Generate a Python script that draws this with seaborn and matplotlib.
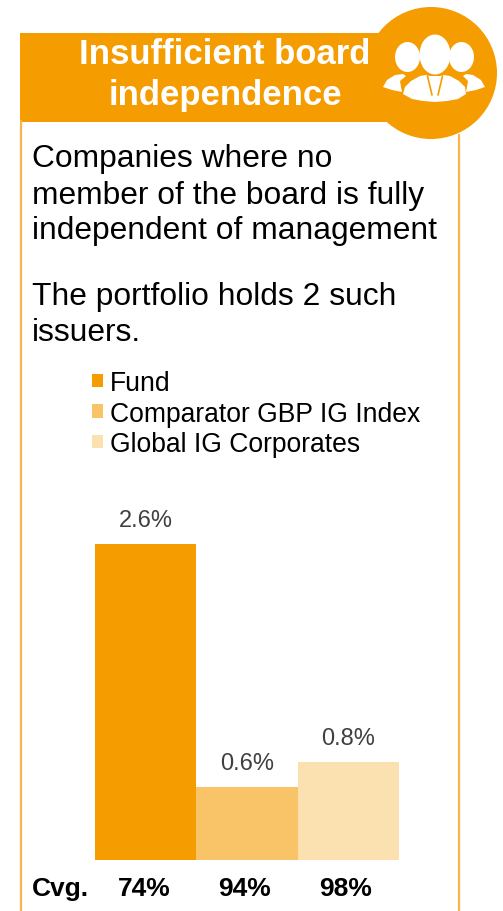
import matplotlib
matplotlib.use('Agg')
import matplotlib.pyplot as plt
from matplotlib.patches import Circle, Ellipse, Rectangle, Polygon
import pandas as pd
import seaborn as sns

names = ['Fund', 'Comparator GBP IG Index', 'Global IG Corporates']
values = [2.6, 0.6, 0.81]
value_labels = ['2.6%', '0.6%', '0.8%']
coverage = ['74%', '94%', '98%']
colors = ['#F59C00', '#F9C468', '#FBE0B0']

W, H = 503, 912
sns.set_theme(style='white')
plt.rcParams['font.family'] = ['Liberation Sans', 'DejaVu Sans']

fig = plt.figure(figsize=(W / 100, H / 100), dpi=100, facecolor='white')

# overlay in pixel coordinates for the panel frame and header
bg = fig.add_axes([0, 0, 1, 1], zorder=0)
bg.set_xlim(0, W)
bg.set_ylim(H, 0)
bg.axis('off')

orange = colors[0]
bg.plot([21.5, 21.5], [122, H], color='#F7B54A', lw=1.6)
bg.plot([459.5, 459.5], [136, H], color='#F7B54A', lw=1.6)
bg.add_patch(Rectangle((20.5, 34), 390, 88.5, color=orange, lw=0))
bg.add_patch(Circle((431, 74), 66, color=orange, lw=0))

# people icon
white = 'white'
bg.add_patch(Ellipse((435, 55.5), 31, 40, color=white, lw=0))
bg.add_patch(Ellipse((407.5, 58), 25, 30, color=white, lw=0))
bg.add_patch(Ellipse((461.5, 58), 25, 30, color=white, lw=0))
bg.add_patch(Polygon([(403, 95), (405, 88), (411, 82), (420, 77), (426, 76), (430, 77),
                      (440, 77), (444, 76), (450, 77), (459, 82), (465, 88), (466, 95),
                      (458, 100), (447, 102), (435, 103), (423, 102), (412, 100)],
                     color=white, lw=0))
bg.plot([427.5, 432], [77, 96], color=orange, lw=1.2)
bg.plot([442.5, 438], [77, 96], color=orange, lw=1.2)
bg.add_patch(Polygon([(383, 88), (387, 81), (395, 76), (403, 75), (406, 77), (400, 82),
                      (401, 88), (402, 93), (392, 91)], color=white, lw=0))
bg.add_patch(Polygon([(485, 88), (481, 81), (473, 76), (466, 75), (463, 77), (468, 82),
                      (467, 88), (466, 93), (476, 91)], color=white, lw=0))

bg.text(225, 55, 'Insufficient board', color='white', fontsize=25, fontweight='bold',
        ha='center', va='center')
bg.text(225, 95, 'independence', color='white', fontsize=25, fontweight='bold',
        ha='center', va='center')

for y, line in zip([159, 196, 231, 297, 333],
                   ['Companies where no', 'member of the board is fully',
                    'independent of management', 'The portfolio holds 2 such', 'issuers.']):
    bg.text(32, y, line, color='black', fontsize=22.9, ha='left', va='center')

bg.text(32, 889, 'Cvg.', color='black', fontsize=19, fontweight='bold', ha='left', va='center')

# bars
left, right, base, top = 95, 399, 861, 545
ax = fig.add_axes([left / W, 1 - base / H, (right - left) / W, (base - top) / H], zorder=1)
ax.patch.set_alpha(0)
df = pd.DataFrame({'name': names, 'value': values})
sns.barplot(data=df, x='name', y='value', hue='name', hue_order=names, palette=colors,
            dodge=False, width=1.0, saturation=1, linewidth=0, ax=ax, legend=True)
ax.set_xlim(-0.5, 2.5)
ax.set_ylim(0, 2.6)
ax.set_xlabel('')
ax.set_ylabel('')
ax.set_xticks([])
ax.set_yticks([])
sns.despine(ax=ax, left=True, bottom=True)

cov_shift = [-1, -1.5, -2]
for i, v in enumerate(values):
    ax.annotate(value_labels[i], (i, v), xytext=(0, 9.2), textcoords='offset points',
                ha='center', va='bottom', fontsize=17, color='#404040', annotation_clip=False)
    ax.annotate(coverage[i], (i, 0), xytext=(cov_shift[i], -20), textcoords='offset points',
                ha='center', va='center', fontsize=19, fontweight='bold', color='black',
                annotation_clip=False)

handles, labels = ax.get_legend_handles_labels()
ax.legend(handles, labels, loc='upper left', bbox_to_anchor=(92 / W, 1 - 371 / H),
          bbox_transform=fig.transFigure, frameon=False, fontsize=19.1, handlelength=0.415,
          handleheight=0.415, handletextpad=0.27, labelspacing=0.17, borderpad=0, borderaxespad=0,
          labelcolor='black')

fig.savefig('out.png', dpi=100)
